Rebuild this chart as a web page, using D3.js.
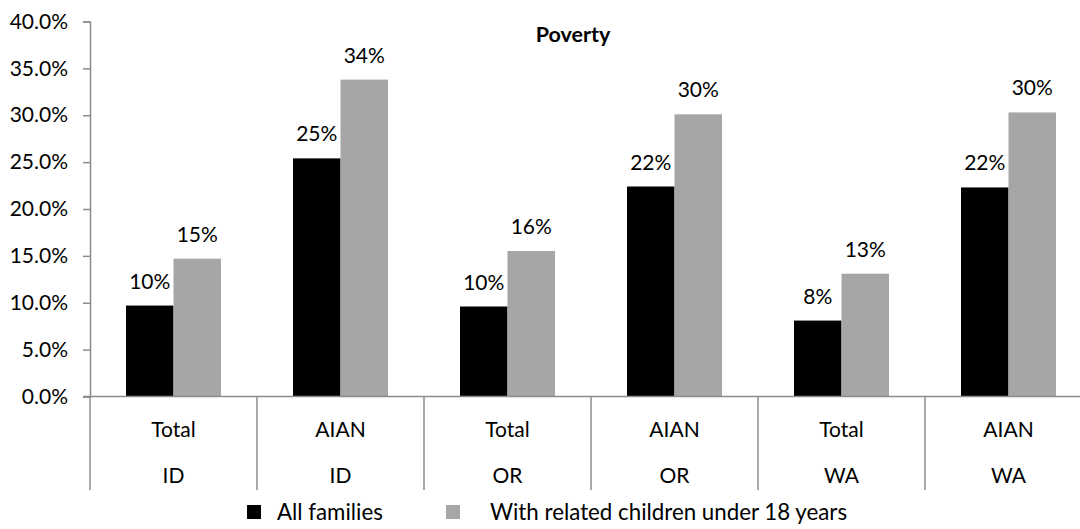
<!DOCTYPE html>
<html>
<head>
<meta charset="utf-8">
<script src="https://cdn.jsdelivr.net/npm/d3@7"></script>
<style>
  html, body { margin: 0; padding: 0; background: #fff; }
  svg { display: block; font-family: Lato, "Open Sans", sans-serif; }
</style>
</head>
<body>
<svg id="chart" width="1080" height="529"></svg>
<script>
// Poverty rates by state and population group
const groups = ["Total", "AIAN", "Total", "AIAN", "Total", "AIAN"];
const states = ["ID", "ID", "OR", "OR", "WA", "WA"];
const seriesNames = ["All families", "With related children under 18 years"];
const allFamilies = [0.097, 0.254, 0.096, 0.224, 0.081, 0.223];
const withChildren = [0.147, 0.338, 0.1552, 0.301, 0.131, 0.303];
const yTicks = [0, 0.05, 0.10, 0.15, 0.20, 0.25, 0.30, 0.35, 0.40];
const colors = ["#000000", "#a6a6a6"];

const svg = d3.select("#chart");
const fontSize = 21;

const x0 = d3.scaleBand().domain(d3.range(groups.length)).range([90, 1092]).padding(0);
const x1 = d3.scaleBand().domain([0, 1]).range([0, x0.bandwidth()]).paddingInner(0).paddingOuter(0.758);
const y = d3.scaleLinear().domain([0, 0.4]).range([396.5, 21.5]);

const axisColor = "#8c8c8c";

// bars
const series = [allFamilies, withChildren];
const cat = svg.append("g").selectAll("g")
  .data(d3.range(groups.length))
  .join("g")
  .attr("transform", i => `translate(${x0(i)},0)`);

cat.selectAll("rect")
  .data(i => series.map((s, k) => ({ k, v: s[i] })))
  .join("rect")
  .attr("x", d => x1(d.k))
  .attr("width", x1.bandwidth())
  .attr("y", d => y(d.v))
  .attr("height", d => y(0) - y(d.v))
  .attr("fill", d => colors[d.k]);

// value labels
cat.selectAll("text")
  .data(i => series.map((s, k) => ({ k, v: s[i] })))
  .join("text")
  .attr("x", d => x1(d.k) + x1.bandwidth() / 2)
  .attr("y", d => y(d.v) - 17)
  .attr("text-anchor", "middle")
  .attr("font-size", fontSize)
  .attr("fill", "#000")
  .text(d => d3.format(".0%")(d.v));

// y axis
const yAxis = d3.axisLeft(y).tickValues(yTicks).tickFormat(d3.format(".1%")).tickSize(7).tickPadding(15);
const gy = svg.append("g").attr("transform", "translate(90,0)").call(yAxis);
gy.select(".domain").attr("stroke", axisColor).attr("stroke-width", 1.5);
gy.selectAll(".tick line").attr("stroke", axisColor).attr("stroke-width", 1.5);
gy.selectAll(".tick text").attr("font-size", fontSize).attr("fill", "#000").attr("font-family", "Lato, sans-serif");

// baseline and category separators
svg.append("line")
  .attr("x1", 83).attr("x2", 1092)
  .attr("y1", y(0)).attr("y2", y(0))
  .attr("stroke", axisColor).attr("stroke-width", 1.5);

const bounds = d3.range(groups.length + 1).map(i => i < groups.length ? x0(i) : x0(groups.length - 1) + x0.bandwidth());
svg.append("g").selectAll("line")
  .data(bounds)
  .join("line")
  .attr("x1", d => d).attr("x2", d => d)
  .attr("y1", y(0)).attr("y2", 490)
  .attr("stroke", axisColor).attr("stroke-width", 1.5);

// two-row category labels
svg.append("g").selectAll("text")
  .data(groups)
  .join("text")
  .attr("x", (d, i) => x0(i) + x0.bandwidth() / 2)
  .attr("y", 436.5)
  .attr("text-anchor", "middle")
  .attr("font-size", fontSize)
  .text(d => d);

svg.append("g").selectAll("text")
  .data(states)
  .join("text")
  .attr("x", (d, i) => x0(i) + x0.bandwidth() / 2)
  .attr("y", 482.5)
  .attr("text-anchor", "middle")
  .attr("font-size", fontSize)
  .text(d => d);

// title
svg.append("text")
  .attr("x", 573).attr("y", 41.5)
  .attr("text-anchor", "middle")
  .attr("font-size", 21.5)
  .attr("font-weight", "bold")
  .text("Poverty");

// legend
const legendX = [247, 446];
const legend = svg.append("g").selectAll("g")
  .data(seriesNames)
  .join("g")
  .attr("transform", (d, i) => `translate(${legendX[i]},512)`);
legend.append("rect")
  .attr("x", 0).attr("y", -7).attr("width", 14).attr("height", 14)
  .attr("fill", (d, i) => colors[i]);
legend.append("text")
  .attr("x", (d, i) => i === 0 ? 30 : 44)
  .attr("y", 8)
  .attr("font-size", 22.3)
  .text(d => d);
</script>
</body>
</html>
